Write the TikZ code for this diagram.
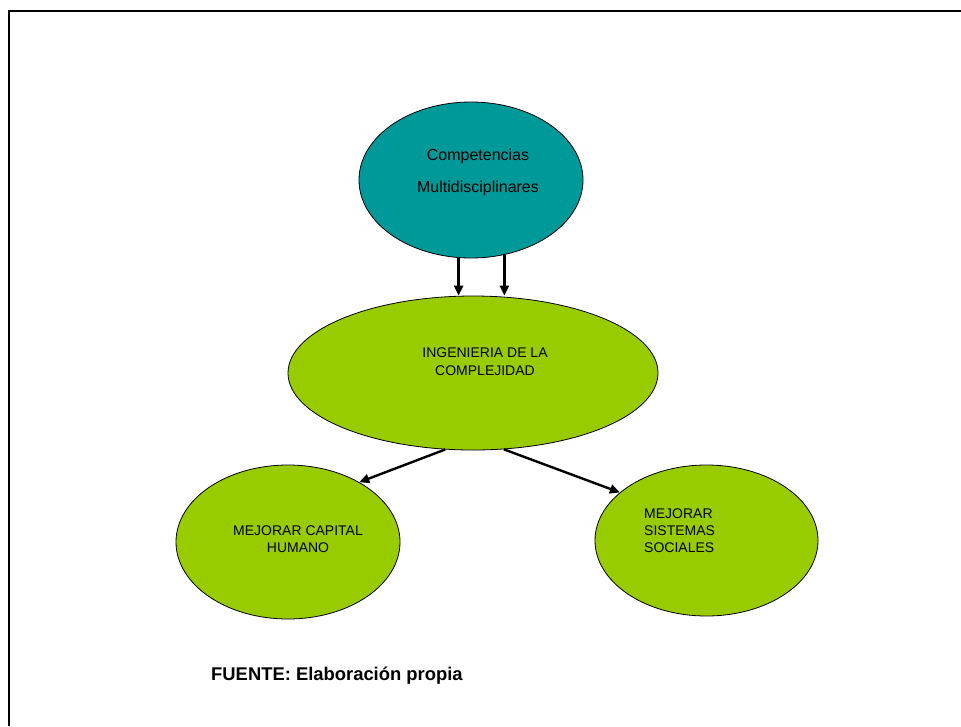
\documentclass[tikz,border=0pt]{standalone}
\usepackage{fontspec}
\setmainfont{Liberation Sans}
\usetikzlibrary{shapes.geometric,arrows.meta}
\definecolor{tealfill}{HTML}{009999}
\definecolor{limefill}{HTML}{99CC00}
\begin{document}
\begin{tikzpicture}[x=1pt,y=-1pt,
  bubble/.style={ellipse,draw=black,line width=0.8pt,inner sep=0pt},
  lbl/.style={inner sep=0pt,text=black},
  arr/.style={line width=2.4pt,-{Triangle[length=10pt,width=9pt]}}]
\useasboundingbox (0,0) rectangle (961,726);
\fill[white] (0,0) rectangle (961,726);
% frame (left and top edges)
\draw[line width=2pt] (9,726) -- (9,11) -- (961,11);
% ellipses
\node[bubble,fill=tealfill,minimum width=224pt,minimum height=156pt] (top) at (471,180) {};
\node[bubble,fill=limefill,minimum width=370pt,minimum height=154pt] (ing) at (473,373) {};
\node[bubble,fill=limefill,minimum width=224pt,minimum height=154pt] (cap) at (288,542) {};
\node[bubble,fill=limefill,minimum width=223pt,minimum height=151pt] (soc) at (706.5,540.5) {};
% texts
\node[lbl,align=center,font=\fontsize{16}{32}\selectfont] (ttop) at (478,172) {Competencias\\Multidisciplinares};
\node[lbl,align=center,font=\fontsize{14}{18}\selectfont] (ting) at (485,362) {INGENIERIA DE LA\\COMPLEJIDAD};
\node[lbl,align=center,font=\fontsize{14}{17.5}\selectfont] (tcap) at (298,539) {MEJORAR CAPITAL\\HUMANO};
\node[lbl,align=left,anchor=west,font=\fontsize{14}{17}\selectfont] (tsoc) at (644,531) {MEJORAR\\SISTEMAS\\SOCIALES};
\node[lbl,anchor=west,font=\fontsize{18.4}{22}\selectfont\bfseries] (src) at (211,676) {FUENTE: Elaboración propia};
% connectors
\draw[arr] (top.-99.5) -- (top.-99.5 |- ing.north);
\draw[arr] (top.-66) -- (top.-66 |- ing.north);
\draw[arr] (ing.-110) -- (cap.40);
\draw[arr] (ing.-68) -- (soc.151);
\end{tikzpicture}
\end{document}
